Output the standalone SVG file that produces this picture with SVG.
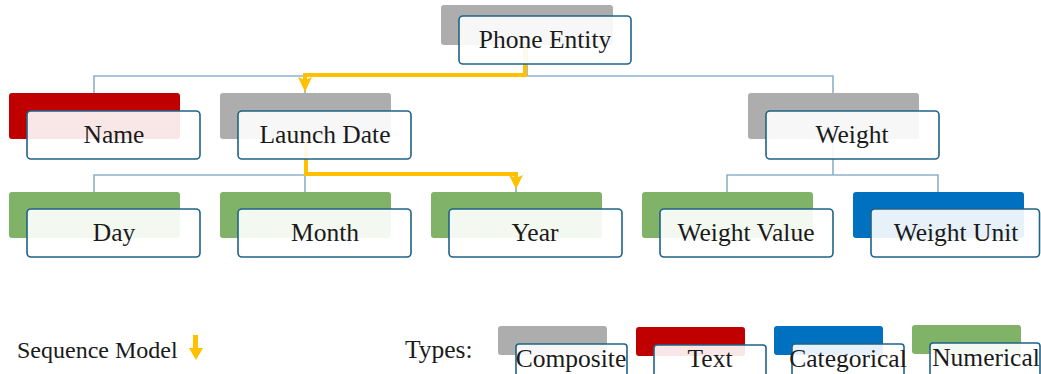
<svg xmlns="http://www.w3.org/2000/svg" width="1041" height="374" viewBox="0 0 1041 374">
<style>
.conn{fill:none;stroke:#8db1c9;stroke-width:1.6}
.seq{fill:none;stroke:#ffc000;stroke-width:4}
.head{fill:#ffc000}
.gray{fill:#adadad}
.red{fill:#c00000}
.blue{fill:#0070c0}
.green{fill:#80b268}
.front{fill:#ffffff;fill-opacity:0.9;stroke:#1f6388;stroke-width:1.6}
.t{font-family:'Liberation Serif','Times New Roman',serif;font-size:25.5px;fill:#1a1a1a}
.t.s{font-size:24px}
.c{text-anchor:middle}
</style>
<rect width="1041" height="374" fill="#ffffff"/>
<g id="connectors">
<path class="conn" d="M527,45 V76 M94,93 V76 H833 V93 M305,76 V93"/>
<path class="conn" d="M305,139 V175 M94,192 V175 H516 V192 M305,175 V192"/>
<path class="conn" d="M833,139 V175 M727,192 V175 H938 V192"/>
<path class="seq" d="M525,45 V75 H305 V82"/>
<polygon class="head" points="298,77 305,80 312,77 305,92"/>
<path class="seq" d="M306,140 V174 H516 V180"/>
<polygon class="head" points="509,175 516,178 523,175 516,189"/>
</g>
<g id="phone-entity">
<rect class="gray" x="441" y="5" width="172" height="40" rx="3"/>
<rect class="front" x="459" y="16" width="172" height="48" rx="4"/>
<text class="t c" x="545" y="48">Phone Entity</text>
</g>
<g id="name">
<rect class="red" x="9" y="93" width="171" height="46" rx="3"/>
<rect class="front" x="27" y="111" width="173" height="48" rx="4"/>
<text class="t c" x="114" y="143">Name</text>
</g>
<g id="launch-date">
<rect class="gray" x="220" y="93" width="171" height="46" rx="3"/>
<rect class="front" x="238" y="111" width="173" height="48" rx="4"/>
<text class="t c" x="325" y="143">Launch Date</text>
</g>
<g id="weight">
<rect class="gray" x="748" y="93" width="171" height="46" rx="3"/>
<rect class="front" x="766" y="111" width="173" height="48" rx="4"/>
<text class="t c" x="852" y="143">Weight</text>
</g>
<g id="day">
<rect class="green" x="9" y="192" width="171" height="46" rx="3"/>
<rect class="front" x="27" y="209" width="173" height="48" rx="4"/>
<text class="t c" x="114" y="241">Day</text>
</g>
<g id="month">
<rect class="green" x="220" y="192" width="171" height="46" rx="3"/>
<rect class="front" x="238" y="209" width="173" height="48" rx="4"/>
<text class="t c" x="325" y="241">Month</text>
</g>
<g id="year">
<rect class="green" x="431" y="192" width="171" height="46" rx="3"/>
<rect class="front" x="449" y="209" width="173" height="48" rx="4"/>
<text class="t c" x="535" y="241">Year</text>
</g>
<g id="weight-value">
<rect class="green" x="642" y="192" width="171" height="46" rx="3"/>
<rect class="front" x="660" y="209" width="173" height="48" rx="4"/>
<text class="t c" x="746" y="241">Weight Value</text>
</g>
<g id="weight-unit">
<rect class="blue" x="853" y="192" width="171" height="46" rx="3"/>
<rect class="front" x="871" y="209" width="168.5" height="48" rx="4"/>
<text class="t c" x="956" y="241">Weight Unit</text>
</g>
<g id="legend">
<text class="t s" x="17" y="358">Sequence Model</text>
<polygon class="head" points="193,335 198,335 198,348 203,348 196,360 189,348 193,348"/>
<text class="t" x="405" y="358">Types:</text>
<g id="legend-composite">
<rect class="gray" x="498" y="326" width="109" height="29" rx="3"/>
<rect class="front" x="516" y="344" width="111" height="34" rx="3"/>
<text class="t c" x="571" y="367">Composite</text>
</g>
<g id="legend-text">
<rect class="red" x="636" y="327" width="109" height="29" rx="3"/>
<rect class="front" x="654" y="345" width="112" height="34" rx="3"/>
<text class="t c" x="710" y="367">Text</text>
</g>
<g id="legend-categorical">
<rect class="blue" x="774" y="326" width="109" height="29" rx="3"/>
<rect class="front" x="792" y="344" width="112" height="34" rx="3"/>
<text class="t c" x="848" y="367">Categorical</text>
</g>
<g id="legend-numerical">
<rect class="green" x="912" y="325" width="109" height="29" rx="3"/>
<rect class="front" x="930" y="343" width="110" height="34" rx="3"/>
<text class="t c" x="986" y="366">Numerical</text>
</g>
</g>
</svg>
